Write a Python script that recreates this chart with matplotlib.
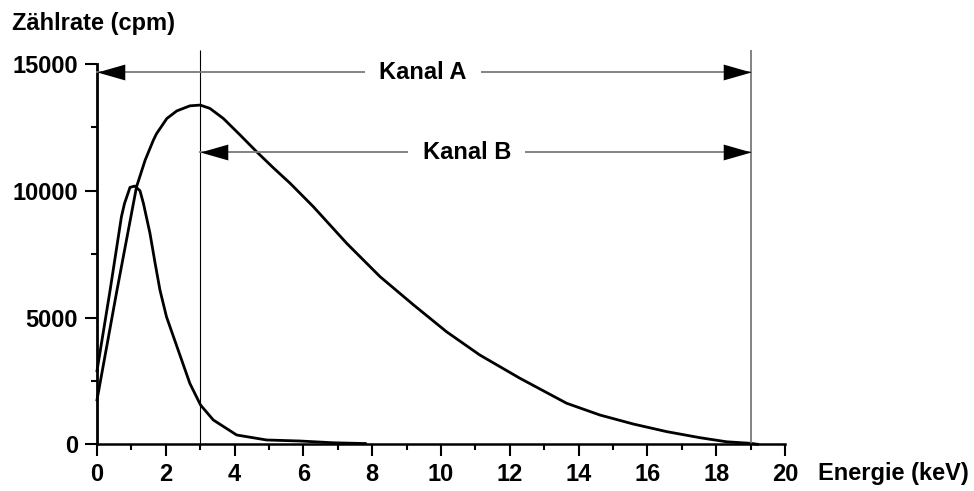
import matplotlib
matplotlib.use('Agg')
from matplotlib import pyplot as plt
from matplotlib.ticker import MultipleLocator

plt.rcParams['font.family'] = ['Liberation Sans', 'DejaVu Sans']
plt.rcParams['font.weight'] = 'bold'

# broad spectrum (peak near 3 keV)
energy_broad = [0, 0.57, 1.15, 1.4, 1.64, 1.73, 2.03, 2.32, 2.7, 3.0, 3.28, 3.67, 4.16,
                4.64, 5.13, 5.61, 6.29, 7.26, 8.23, 9.2, 10.16, 11.13, 12.3, 13.65,
                14.62, 15.59, 16.56, 17.53, 18.3, 18.98, 19.2]
rate_broad = [1750, 6000, 10160, 11210, 12000, 12250, 12850, 13150, 13350, 13380,
              13250, 12855, 12200, 11540, 10900, 10300, 9370, 7925, 6610, 5500, 4440,
              3520, 2600, 1620, 1155, 800, 500, 260, 100, 40, 0]

# narrow spectrum (peak near 1 keV)
energy_narrow = [0, 0.38, 0.71, 0.8, 0.96, 1.1, 1.25, 1.35, 1.54, 1.69, 1.83, 2.02,
                 2.41, 2.7, 3.01, 3.38, 4.06, 4.93, 5.9, 6.87, 7.8]
rate_narrow = [2900, 6070, 8975, 9500, 10135, 10185, 10000, 9500, 8320, 7137, 6085,
               5030, 3520, 2400, 1550, 960, 367, 170, 130, 60, 30]

# channel windows
chan_a = (0, 19)
chan_a_y = 14680
chan_a_label_x = 9.48
chan_b = (3, 19)
chan_b_y = 11515
chan_b_label_x = 10.75
window_lines = [3, 19]
window_top = 15550

x_ticks = [0, 2, 4, 6, 8, 10, 12, 14, 16, 18, 20]
y_ticks = [0, 5000, 10000, 15000]

fig = plt.figure(figsize=(9.74, 4.91), dpi=100)
ax = fig.add_axes([97/974, 1-444.3/491, (785-97)/974, (444.3-64)/491])

ax.plot(energy_broad, rate_broad, color='black', lw=2, solid_joinstyle='round', clip_on=False)
ax.plot(energy_narrow, rate_narrow, color='black', lw=2, solid_joinstyle='round', clip_on=False)

# window boundaries
ax.vlines(window_lines[0], 0, window_top, color='black', lw=0.8, clip_on=False)
ax.vlines(window_lines[1], 0, window_top, color='#7a7a7a', lw=1.3, clip_on=False)

# double arrows
head_right = [(0, 0), (-3.5, 1), (-3.5, -1), (0, 0)]
head_left = [(0, 0), (3.5, 1), (3.5, -1), (0, 0)]
for (x0, x1), yy, lx, name in [(chan_a, chan_a_y, chan_a_label_x, 'Kanal A'),
                               (chan_b, chan_b_y, chan_b_label_x, 'Kanal B')]:
    ax.plot([x0, x1], [yy, yy], color='#7a7a7a', lw=1.3, clip_on=False, zorder=3)
    ax.plot([x0], [yy], marker=head_left, ms=40, color='black', mew=0, clip_on=False, zorder=4)
    ax.plot([x1], [yy], marker=head_right, ms=40, color='black', mew=0, clip_on=False, zorder=4)
    ax.text(lx, yy, name, ha='center', va='center', fontsize=17, fontweight='bold', zorder=5,
            bbox=dict(boxstyle='square,pad=0.6', fc='white', ec='none'))

ax.set_xlim(0, 20)
ax.set_ylim(0, 15000)
ax.set_xticks(x_ticks)
ax.set_yticks(y_ticks)
ax.xaxis.set_minor_locator(MultipleLocator(1))
ax.yaxis.set_minor_locator(MultipleLocator(2500))
ax.tick_params(which='major', length=8.5, width=1.5, labelsize=17, pad=5)
ax.tick_params(which='minor', length=4.3, width=1.5)
for lab in ax.get_xticklabels() + ax.get_yticklabels():
    lab.set_fontweight('bold')

for s in ['top', 'right']:
    ax.spines[s].set_visible(False)
ax.spines['left'].set_linewidth(2)
ax.spines['bottom'].set_linewidth(1.8)

fig.text(12/974, 1-30/491, 'Zählrate (cpm)', fontsize=17, fontweight='bold', va='baseline')
fig.text(818/974, 1-480/491, 'Energie (keV)', fontsize=17, fontweight='bold', va='baseline')

plt.savefig('out.png', dpi=100)
